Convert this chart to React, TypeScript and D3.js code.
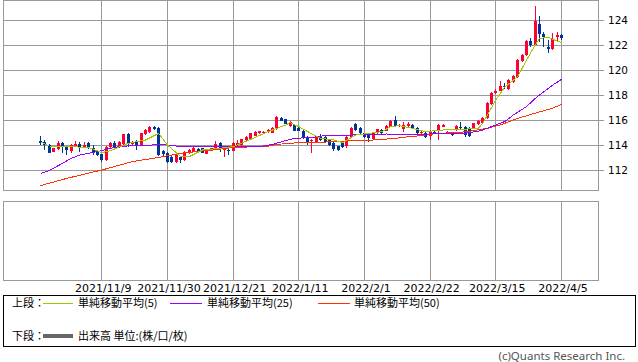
import React from "react";
import * as d3 from "d3";

// ---- data ----
const dateLabels = ["2021/11/9", "2021/11/30", "2021/12/21", "2022/1/11", "2022/2/1", "2022/2/22", "2022/3/15", "2022/4/5"];
const dateLabelIdx = [14, 29, 44, 59, 74, 89, 104, 119];
const yTicks = [112, 114, 116, 118, 120, 122, 124];

const openV = [
  114.32, 114.27, 114.0, 113.47, 113.65, 114.19, 113.81, 113.55, 113.92, 114.05,
  113.87, 114.13, 113.73, 113.47, 113.25, 112.8, 113.87, 114.13, 113.87, 114.05,
  114.85, 114.05, 114.32, 114.0, 114.85, 115.07, 115.47, 115.39, 113.55, 113.33,
  113.07, 112.67, 113.07, 112.8, 113.33, 113.47, 113.68, 113.73, 113.28, 113.6,
  113.65, 114.13, 113.6, 113.62, 113.55, 114.0, 114.0, 114.4, 114.45, 114.72,
  114.93, 114.93, 115.01, 114.99, 115.25, 116.13, 116.05, 115.52, 115.6, 115.33,
  115.15, 114.67, 114.35, 114.19, 114.67, 114.67, 114.4, 114.13, 113.92, 114.13,
  113.92, 114.61, 115.68, 115.33, 114.93, 114.93, 114.45, 114.93, 115.2, 115.15,
  115.47, 116.0, 115.52, 115.25, 115.52, 115.6, 115.39, 114.99, 114.99, 114.72,
  115.07, 115.15, 115.47, 114.93, 114.99, 115.2, 115.47, 115.47, 115.33, 115.33,
  115.65, 115.79, 116.13, 117.28, 118.19, 118.35, 118.72, 118.45, 119.07, 119.41,
  120.72, 121.2, 122.35, 122.0, 123.68, 122.88, 121.81, 121.65, 122.61, 122.8,
];
const closeV = [
  114.13, 114.0, 113.39, 113.73, 114.19, 113.87, 113.6, 114.0, 114.05, 113.79,
  113.97, 113.73, 113.33, 113.2, 112.8, 113.87, 114.13, 113.73, 114.21, 114.85,
  114.19, 114.27, 113.92, 114.93, 115.2, 115.47, 115.25, 113.2, 113.28, 112.67,
  112.67, 113.2, 112.8, 113.47, 113.6, 113.79, 113.41, 113.39, 113.65, 113.73,
  114.08, 113.73, 113.68, 113.55, 114.13, 114.19, 114.45, 114.67, 114.93, 115.04,
  115.12, 115.07, 115.2, 115.33, 116.21, 115.95, 115.68, 115.87, 115.15, 115.15,
  114.53, 114.27, 114.4, 114.67, 114.4, 114.27, 114.0, 113.65, 113.6, 113.87,
  114.67, 115.33, 115.2, 114.93, 114.67, 114.53, 114.93, 115.25, 114.93, 115.52,
  115.95, 115.52, 115.6, 115.6, 115.65, 115.33, 114.93, 115.07, 114.67, 115.15,
  114.93, 115.6, 115.6, 115.01, 114.8, 115.52, 115.33, 114.8, 114.72, 115.73,
  115.92, 116.13, 117.33, 118.13, 118.35, 118.72, 118.61, 119.2, 119.52, 120.8,
  121.2, 122.35, 122.0, 123.92, 122.85, 122.61, 121.65, 122.45, 122.8, 122.53,
];
const highV = [
  114.72, 114.4, 114.1, 113.8, 114.3, 114.25, 113.9, 114.1, 114.35, 114.2,
  114.27, 114.2, 114.0, 113.55, 113.3, 113.95, 114.2, 114.3, 114.3, 114.9,
  114.99, 114.35, 114.4, 115.0, 115.3, 115.5, 115.5, 115.45, 113.6, 113.4,
  113.1, 113.25, 113.1, 113.5, 113.7, 113.85, 113.8, 113.8, 113.7, 113.8,
  114.3, 114.2, 113.87, 113.87, 114.2, 114.4, 114.5, 114.72, 115.0, 115.1,
  115.15, 115.1, 115.25, 115.4, 116.32, 116.2, 116.1, 115.95, 115.65, 115.4,
  115.2, 114.7, 114.45, 114.75, 114.9, 114.75, 114.5, 114.2, 113.95, 114.2,
  114.75, 115.45, 115.75, 115.4, 115.0, 115.0, 115.0, 115.3, 115.3, 115.6,
  116.0, 116.32, 115.7, 115.87, 115.81, 115.7, 115.45, 115.15, 115.05, 115.2,
  115.15, 115.7, 115.65, 115.1, 115.05, 115.6, 115.81, 115.5, 115.4, 115.8,
  115.97, 116.2, 117.4, 118.2, 118.45, 119.15, 118.93, 119.3, 119.6, 120.9,
  121.3, 122.4, 122.53, 125.12, 124.32, 123.07, 122.4, 122.93, 123.07, 122.9,
];
const lowV = [
  114.0, 113.6, 113.33, 113.4, 113.6, 113.33, 113.2, 113.33, 113.9, 113.47,
  113.8, 113.7, 113.2, 113.1, 112.67, 112.75, 113.8, 113.7, 113.8, 114.0,
  113.87, 114.0, 113.6, 113.95, 114.8, 115.0, 115.2, 113.15, 113.0, 112.6,
  112.55, 112.6, 112.53, 112.75, 113.3, 113.4, 113.35, 113.35, 113.25, 113.55,
  113.6, 113.47, 113.07, 113.2, 113.5, 113.95, 113.95, 114.35, 114.4, 114.7,
  114.9, 114.9, 114.97, 114.95, 115.2, 115.9, 115.65, 115.45, 115.1, 115.1,
  114.45, 114.0, 113.39, 114.15, 114.35, 114.2, 113.9, 113.55, 113.5, 113.75,
  113.73, 114.55, 115.1, 114.9, 114.6, 114.27, 114.4, 114.9, 114.85, 115.1,
  115.4, 115.45, 115.45, 115.07, 115.45, 115.3, 114.9, 114.9, 114.6, 114.4,
  114.85, 114.4, 115.4, 114.85, 114.75, 115.15, 115.3, 114.61, 114.65, 115.3,
  115.6, 115.75, 116.1, 117.2, 118.1, 118.3, 118.45, 118.4, 119.0, 119.35,
  120.65, 121.1, 121.87, 121.9, 122.27, 121.87, 121.33, 121.6, 122.27, 122.4,
];

// moving averages: [candle index, value]
const ma5 = [
  [0, 114.27], [2, 113.92], [6, 113.87], [11, 113.81], [14, 113.39], [16, 113.55], [20, 114.13],
  [24, 114.4], [27, 114.93], [29, 114.0], [32, 113.07], [34, 113.07], [37, 113.6], [40, 113.7],
  [44, 113.87], [48, 114.45], [52, 115.07], [56, 115.6], [57, 115.79], [59, 115.47], [62, 114.88],
  [64, 114.53], [67, 114.4], [69, 114.19], [72, 114.8], [75, 114.93], [78, 115.07], [80, 115.47],
  [82, 115.55], [85, 115.33], [88, 115.07], [92, 115.2], [96, 115.25], [100, 115.33], [101, 115.73],
  [104, 117.6], [106, 118.61], [109, 119.47], [111, 120.8], [113, 122.0], [114, 122.53],
  [116, 122.61], [117, 122.45], [119, 122.19],
];
const ma25 = [
  [0, 111.73], [2, 111.95], [5, 112.53], [7, 112.93], [9, 113.2], [11, 113.33], [14, 113.55],
  [16, 113.73], [18, 113.87], [21, 113.95], [24, 113.95], [27, 114.05], [28, 114.05], [31, 113.92],
  [33, 113.87], [37, 113.87], [40, 113.92], [44, 113.9], [48, 113.87], [50, 113.87], [53, 114.05],
  [56, 114.35], [58, 114.53], [62, 114.61], [66, 114.8], [71, 114.8], [75, 114.85], [79, 114.88],
  [85, 114.82], [90, 114.9], [97, 114.95], [100, 115.1], [101, 115.2], [104, 115.6], [106, 115.87],
  [108, 116.4], [111, 117.07], [113, 117.73], [115, 118.27], [117, 118.8], [119, 119.25],
];
const ma50 = [
  [0, 110.75], [6, 111.33], [14, 112.0], [21, 112.67], [27, 113.01], [30, 113.2], [32, 113.33],
  [37, 113.52], [40, 113.62], [44, 113.8], [48, 113.85], [52, 113.9], [54, 114.05], [59, 114.19],
  [63, 114.2], [67, 114.27], [72, 114.35], [76, 114.4], [81, 114.53], [83, 114.62], [86, 114.72],
  [90, 114.9], [97, 115.05], [102, 115.33], [105, 115.6], [109, 116.13], [113, 116.55],
  [117, 116.95], [119, 117.25],
];

const legendTop = [
  { label: "単純移動平均(5)", color: "#99cc00", x1: 43, x2: 73, tx: 78 },
  { label: "単純移動平均(25)", color: "#9900ff", x1: 170, x2: 202, tx: 207 },
  { label: "単純移動平均(50)", color: "#ff3300", x1: 318, x2: 350, tx: 354 },
];

const W = 638;
const H = 362;
const L = 3.5;
const R = 598.5;

export default function App() {
  const x = d3.scaleLinear().domain([0, 119]).range([40, 561]);
  const y = d3.scaleLinear().domain([112, 124]).range([170, 20]);
  const px = (i: number) => Math.round(x(i)) + 0.5;
  const line = d3
    .line<number[]>()
    .x((d) => x(d[0]) + 0.5)
    .y((d) => y(d[1]));

  const candles = openV.map((o, i) => {
    const c = closeV[i];
    const up = c >= o;
    const color = up ? "#ff0033" : "#003399";
    const cx = px(i);
    const top = Math.round(y(Math.max(o, c)));
    const bot = Math.round(y(Math.min(o, c)));
    return (
      <g key={i}>
        <line x1={cx} x2={cx} y1={Math.round(y(highV[i]))} y2={Math.round(y(lowV[i]))} stroke={color} strokeWidth={1} />
        <rect x={cx - 1.5} y={top} width={3} height={Math.max(1, bot - top)} fill={color} />
      </g>
    );
  });

  const font = "'DejaVu Sans', sans-serif";
  const jfont = "'Noto Sans CJK JP', sans-serif";

  return (
    <svg width={W} height={H} style={{ position: "absolute", left: 0, top: 0, background: "#fff" }}>
      <rect x={0} y={0} width={W} height={H} fill="#fff" />
      <g shapeRendering="crispEdges">
        {/* top panel grid */}
        {yTicks.map((t) => (
          <line key={t} x1={L} x2={604} y1={Math.round(y(t)) + 0.5} y2={Math.round(y(t)) + 0.5} stroke="#999" />
        ))}
        {dateLabelIdx.map((i) => (
          <line key={"vt" + i} x1={px(i)} x2={px(i)} y1={0.5} y2={190.5} stroke="#999" />
        ))}
        <rect x={L} y={0.5} width={R - L} height={190} fill="none" stroke="#999" />
        {/* lower panel */}
        {dateLabelIdx.map((i) => (
          <line key={"vb" + i} x1={px(i)} x2={px(i)} y1={201.5} y2={280.5} stroke="#999" />
        ))}
        <rect x={L} y={201.5} width={R - L} height={79} fill="none" stroke="#999" />
        {candles}
        <path d={line(ma50 as number[][]) || ""} fill="none" stroke="#ff3300" strokeWidth={1} />
        <path d={line(ma25 as number[][]) || ""} fill="none" stroke="#9900ff" strokeWidth={1} />
        <path d={line(ma5 as number[][]) || ""} fill="none" stroke="#99cc00" strokeWidth={1} />
      </g>

      {yTicks.map((t) => (
        <text key={"yl" + t} x={608} y={y(t) + 4} fontFamily={font} fontSize={10.5} fill="#000">
          {t}
        </text>
      ))}
      {dateLabels.map((d, k) => (
        <text key={d} x={x(dateLabelIdx[k]) + 2} y={292} textAnchor="middle" fontFamily={font} fontSize={11} fill="#000">
          {d}
        </text>
      ))}

      {/* legend */}
      <rect x={3.5} y={295.5} width={632} height={51} fill="none" stroke="#000" shapeRendering="crispEdges" />
      <text x={12} y={307} fontFamily={jfont} fontSize={11} fill="#000">上段：</text>
      {legendTop.map((l) => (
        <g key={l.label}>
          <line x1={l.x1} x2={l.x2} y1={303.5} y2={303.5} stroke={l.color} shapeRendering="crispEdges" />
          <text x={l.tx} y={307} fontFamily={jfont} fontSize={11} fill="#000">{l.label}</text>
        </g>
      ))}
      <text x={12} y={340} fontFamily={jfont} fontSize={11} fill="#000">下段：</text>
      <line x1={43} x2={73} y1={336} y2={336} stroke="#666" strokeWidth={4} shapeRendering="crispEdges" />
      <text x={78} y={340} fontFamily={jfont} fontSize={11} fill="#000">出来高 単位:(株/口/枚)</text>

      <text x={625} y={360} textAnchor="end" fontFamily="'Noto Sans', sans-serif" fontSize={11.5} fill="#555">
        (c)Quants Research Inc.
      </text>
    </svg>
  );
}
